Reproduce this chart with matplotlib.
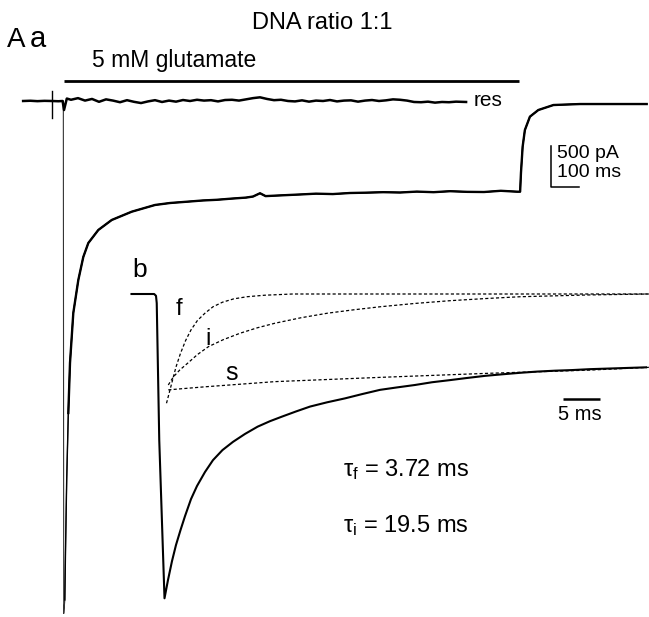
import matplotlib.pyplot as plt
import numpy as np

plt.rcParams['font.family'] = ['Liberation Sans', 'DejaVu Sans']
plt.rcParams['mathtext.fontset'] = 'custom'
plt.rcParams['mathtext.rm'] = 'Liberation Sans'
plt.rcParams['mathtext.it'] = 'Liberation Sans'

# ---- panel a : whole response (time in ms, current in pA) ----
main_t = [-146, -2.4, -1, 2.9, 5.4, 9.6, 15.4, 21.4, 33.2, 51.1, 68.9, 86.8, 122.5,
          170.4, 241.8, 325, 378.6, 440, 496, 545, 600, 650, 675, 700, 720, 780,
          843, 900, 960, 1021, 1080, 1140, 1200, 1260, 1320, 1379, 1440, 1500, 1560,
          1618, 1629, 1632, 1638, 1646, 1664, 1694, 1748, 1843, 2081]
main_i = [0, 0, -6250, -6085, -5476, -4622, -3805, -3195, -2585, -2183, -1902, -1732,
          -1573, -1451, -1350, -1268, -1244, -1228, -1213, -1205, -1190, -1178, -1165,
          -1125, -1160, -1150, -1140, -1130, -1135, -1122, -1118, -1112, -1116, -1105,
          -1112, -1100, -1108, -1110, -1095, -1106, -1106, -878, -557, -354, -191,
          -110, -49, -37, -37]

res_t = [-146, -120, -95, -70, -43, -20, -5, 0, 10, 25, 50, 75, 100, 125, 150, 175,
         200, 225, 250, 275, 300, 325, 350, 375, 400, 425, 450, 475, 500, 525, 550,
         575, 600, 625, 650, 675, 700, 725, 750, 775, 800, 825, 850, 875, 900, 925,
         950, 975, 1000, 1025, 1050, 1075, 1100, 1125, 1150, 1175, 1200, 1225, 1250,
         1275, 1300, 1325, 1350, 1375, 1400, 1436]
res_i = [0, 3, -2, 2, 0, -3, 0, -110, 30, 15, 35, 5, 25, -10, 20, 5, -15, 10, -10,
         -25, -5, 10, -12, 5, -8, 12, 0, 15, 5, 10, -5, 12, 15, 5, 20, 35, 45, 25,
         10, 15, 0, -5, 8, -8, 5, 0, 12, -5, 5, 8, -8, 5, 12, 0, 8, 20, 15, 5,
         -12, -15, -8, -20, -12, -15, -8, -12]

tick_t = -43
tick_i = [120, -207]
glu_on, glu_off = 0, 1625
glu_level = 244
bar_a_t = [1739, 1839]
bar_a_i = [-549, -1049]

# ---- panel b : onset, normalised current ----
b_t = [-3.51, -0.45, -0.2, -0.1, 0.24, 0.95, 1.42, 1.96, 2.50, 3.11, 3.72, 4.53,
       5.34, 6.42, 7.50, 8.78, 10.20, 11.82, 13.53, 15.20, 16.82, 18.72, 20.61,
       22.91, 25.34, 27.64, 30.07, 32.37, 34.80, 37.10, 39.53, 41.82, 44.26, 46.55,
       48.99, 51.28, 53.72, 56.01, 58.45, 62.23, 66.01]
b_i = [0, 0, -0.006, -0.03, -0.48, -1.0, -0.940, -0.878, -0.825, -0.776, -0.730,
       -0.674, -0.631, -0.585, -0.546, -0.513, -0.486, -0.460, -0.436, -0.418,
       -0.403, -0.386, -0.370, -0.356, -0.343, -0.329, -0.315, -0.307, -0.299,
       -0.290, -0.283, -0.276, -0.269, -0.264, -0.259, -0.255, -0.252, -0.250,
       -0.247, -0.244, -0.241]

f_t = [1.22, 1.93, 2.5, 3.11, 3.8, 4.53, 5.4, 6.42, 7.5, 8.78, 10.3, 12.09, 14.5,
       18.26, 66.4]
f_i = [-0.359, -0.293, -0.240, -0.195, -0.153, -0.118, -0.087, -0.063, -0.042,
       -0.027, -0.016, -0.009, -0.004, 0, 0]
i_t = [1.46, 2.16, 3.0, 4.05, 5.4, 6.89, 8.9, 11.15, 13.5, 15.88, 19.4, 22.99,
       26.5, 30.07, 34.8, 39.53, 44.3, 48.99, 58.45, 66.4]
i_i = [-0.299, -0.272, -0.250, -0.228, -0.199, -0.173, -0.150, -0.129, -0.111,
       -0.096, -0.078, -0.063, -0.052, -0.042, -0.031, -0.022, -0.015, -0.009,
       -0.003, 0]
s_t = [1.46, 6.42, 15.88, 30.07, 44.26, 58.45, 66.4]
s_i = [-0.315, -0.305, -0.288, -0.274, -0.261, -0.250, -0.241]
bar_b_t = [54.8, 59.8]
bar_b_i = -0.345

tau_f = 3.72
tau_i = 19.5

W, H = 649, 617
fig = plt.figure(figsize=(W / 100, H / 100), dpi=100)

ax = fig.add_axes([0, 0, 1, 1])
ax.set_xlim(-228.6, 2089.3)
ax.set_ylim(-6292.7, 1231.7)
ax.axis('off')

main_t = np.array(main_t)
main_i = np.array(main_i)
# thin onset, thicker (noisy) decay
ax.plot(main_t, main_i, color='#333333', lw=0.8)
mid = main_t >= 2.9
ax.plot(main_t[mid], main_i[mid], color='black', lw=1.0)
late = main_t >= 15
ax.plot(main_t[late], main_i[late], color='black', lw=1.7)
ax.plot(res_t, res_i, color='black', lw=1.8)
ax.plot([tick_t, tick_t], tick_i, color='black', lw=1.0)
ax.plot([glu_on, glu_off], [glu_level, glu_level], color='black', lw=2.0,
        solid_capstyle='butt')
ax.plot([bar_a_t[0], bar_a_t[0], bar_a_t[1]], [bar_a_i[0], bar_a_i[1], bar_a_i[1]],
        color='black', lw=1.1)

axb = fig.add_axes([0, 0, 1, 1])
axb.set_xlim(-21.28, 66.42)
axb.set_ylim(-1.0615, 0.9662)
axb.axis('off')
axb.patch.set_alpha(0)

axb.plot(b_t, b_i, color='black', lw=1.5)
for tt, ii in [(f_t, f_i), (i_t, i_i), (s_t, s_i)]:
    axb.plot(tt, ii, color='black', lw=0.9, linestyle=(0, (2.5, 1.8)))
axb.plot(bar_b_t, [bar_b_i, bar_b_i], color='black', lw=1.8, solid_capstyle='butt')


def put(x, y, s, **kw):
    fig.text(x / W, 1 - y / H, s, **kw)


put(322, 23, 'DNA ratio 1:1', fontsize=17, ha='center', va='center')
put(7, 47, 'A', fontsize=20, ha='left', va='baseline')
put(30, 47, 'a', fontsize=21, ha='left', va='baseline')
put(174, 61, '5 mM glutamate', fontsize=16.5, ha='center', va='center')
put(474, 101, 'res', fontsize=15, ha='left', va='center')
put(557, 154, '500 pA', fontsize=14, ha='left', va='center')
put(557, 172, '100 ms', fontsize=14, ha='left', va='center')
put(132, 277, 'b', fontsize=19, ha='left', va='baseline')
put(179, 309, 'f', fontsize=17, ha='center', va='center')
put(208, 339, 'i', fontsize=17, ha='center', va='center')
put(232, 373, 's', fontsize=18, ha='center', va='center')
put(580, 415, '5 ms', fontsize=14.5, ha='center', va='center')
put(343, 470, r'$\tau_{\mathrm{f}}$ = %.2f ms' % tau_f, fontsize=17, ha='left', va='center')
put(343, 526, r'$\tau_{\mathrm{i}}$ = %.1f ms' % tau_i, fontsize=17, ha='left', va='center')

plt.savefig('out.png', dpi=100)
